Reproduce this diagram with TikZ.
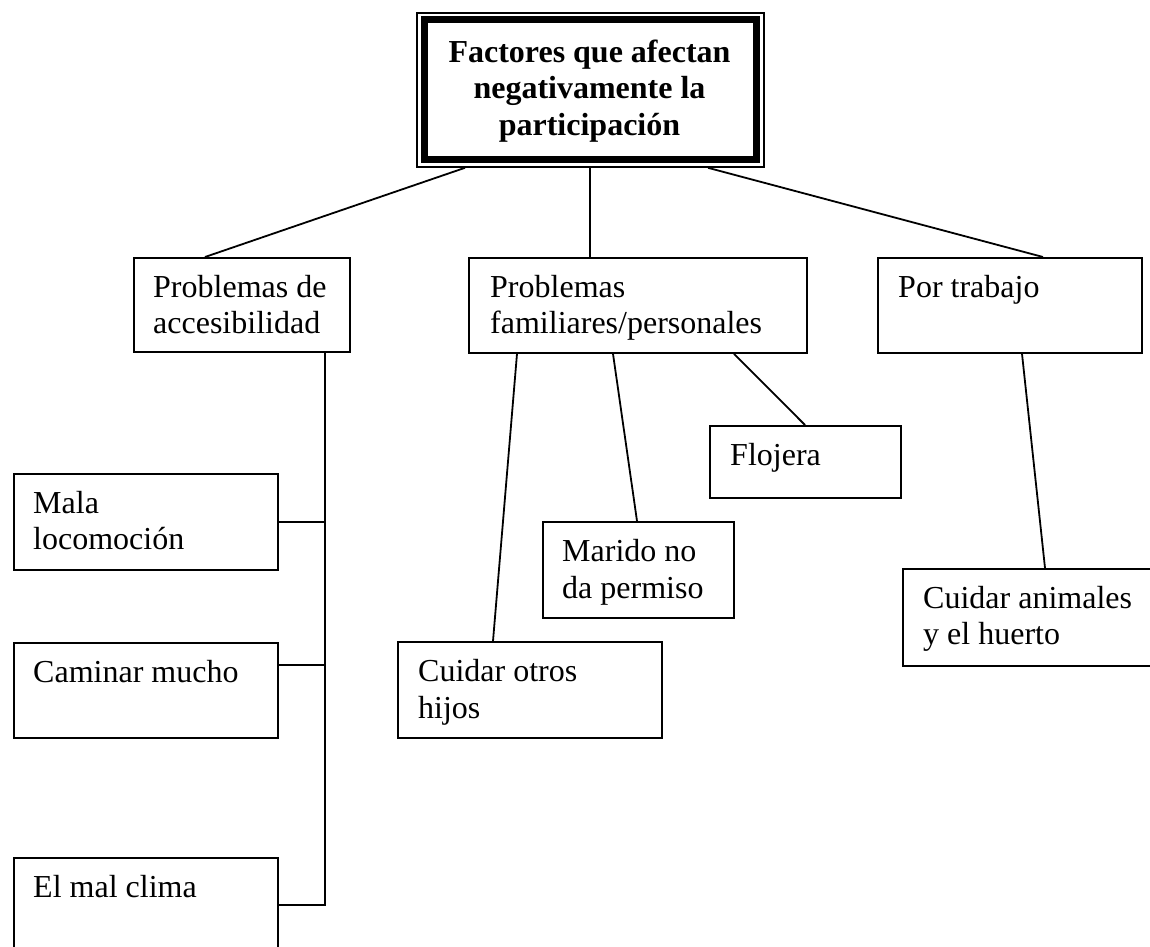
\documentclass[tikz,border=0pt]{standalone}
\usepackage{fontspec}
\setmainfont{Liberation Serif}
\tikzset{
  box/.style={draw, line width=1.8pt, inner sep=0pt, anchor=north west},
  lbl/.style={anchor=north west, inner sep=0pt, align=left, font=\fontsize{32}{36.5}\selectfont},
  conn/.style={line width=1.8pt},
}
\begin{document}
\begin{tikzpicture}[x=1pt,y=-1pt]
\useasboundingbox (0,0) rectangle (1150,946);
\clip (0,0) rectangle (1150,946);
\fill[white] (0,0) rectangle (1150,946);

% title
\node[box, minimum width=347, minimum height=154] (title) at (416,12) {};
\draw[line width=7pt] ([xshift=8pt,yshift=-7.5pt]title.north west) rectangle ([xshift=-8pt,yshift=8pt]title.south east);
\node[anchor=north, inner sep=0pt, align=center, font=\bfseries\fontsize{32}{36.5}\selectfont] (ttl) at (589.5,36.5) {\strut Factores que afectan\\negativamente la\\participación};

% level 1
\node[box, minimum width=216, minimum height=94] (acc) at (133,257) {};
\node[lbl] (tacc) at ([xshift=20pt,yshift=-14.5pt]acc.north west) {\strut Problemas de\\accesibilidad};
\node[box, minimum width=338, minimum height=95] (fam) at (468,257) {};
\node[lbl] (tfam) at ([xshift=22pt,yshift=-14.5pt]fam.north west) {\strut Problemas\\familiares/personales};
\node[box, minimum width=264, minimum height=95] (pt) at (877,257) {};
\node[lbl] (tpt) at ([xshift=21pt,yshift=-15pt]pt.north west) {\strut Por trabajo};

% left column
\node[box, minimum width=264, minimum height=96] (mala) at (13,473) {};
\node[lbl] (tmala) at ([xshift=20pt,yshift=-14.5pt]mala.north west) {\strut Mala\\locomoción};
\node[box, minimum width=264, minimum height=95] (cam) at (13,642) {};
\node[lbl] (tcam) at ([xshift=20pt,yshift=-14.5pt]cam.north west) {\strut Caminar mucho};
\node[box, minimum width=264, minimum height=110] (clima) at (13,857) {};
\node[lbl] (tclima) at ([xshift=20pt,yshift=-15pt]clima.north west) {\strut El mal clima};

% middle
\node[box, minimum width=191, minimum height=72] (floj) at (709,425) {};
\node[lbl] (tfloj) at ([xshift=21pt,yshift=-14.5pt]floj.north west) {\strut Flojera};
\node[box, minimum width=191, minimum height=96] (mar) at (542,521) {};
\node[lbl] (tmar) at ([xshift=20pt,yshift=-15pt]mar.north west) {\strut Marido no\\da permiso};
\node[box, minimum width=264, minimum height=96] (hij) at (397,641) {};
\node[lbl] (thij) at ([xshift=21pt,yshift=-15pt]hij.north west) {\strut Cuidar otros\\hijos};

% right
\node[box, minimum width=264, minimum height=97] (ani) at (902,568) {};
\node[lbl] (tani) at ([xshift=21pt,yshift=-14.5pt]ani.north west) {\strut Cuidar animales\\y el huerto};

% connectors from title
\draw[conn] ([xshift=49pt]title.south west) -- ([xshift=72pt]acc.north west);
\draw[conn] ([xshift=174pt]title.south west) -- ([xshift=122pt]fam.north west);
\draw[conn] ([xshift=292pt]title.south west) -- ([xshift=166pt]pt.north west);

% accesibilidad spine
\coordinate (sp) at ([xshift=192pt]acc.south west);
\coordinate (climac) at ([yshift=-48pt]clima.north east);
\coordinate (camc) at ([yshift=-23pt]cam.north east);
\draw[conn] (sp) |- (climac);
\draw[conn] (mala.east) -- (mala.east -| sp);
\draw[conn] (camc) -- (camc -| sp);

% familiares
\draw[conn] ([xshift=49pt]fam.south west) -- ([xshift=96pt]hij.north west);
\draw[conn] ([xshift=145pt]fam.south west) -- ([xshift=95pt]mar.north west);
\draw[conn] ([xshift=266pt]fam.south west) -- ([xshift=96pt]floj.north west);

% por trabajo
\draw[conn] ([xshift=145pt]pt.south west) -- ([xshift=143pt]ani.north west);
\end{tikzpicture}
\end{document}
